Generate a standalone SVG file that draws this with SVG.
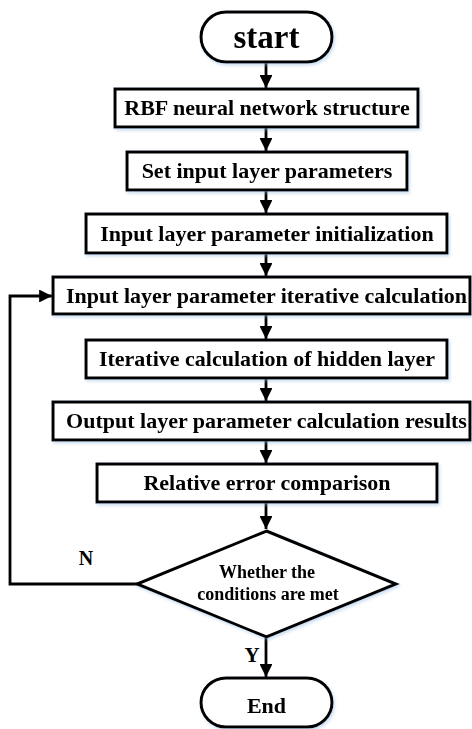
<svg xmlns="http://www.w3.org/2000/svg" width="472" height="729" viewBox="0 0 472 729">
<style>
.box{fill:#fff;stroke:#000;stroke-width:3}
.t{font-family:"Liberation Serif","Times New Roman",serif;font-weight:bold;font-size:22px;fill:#000;text-anchor:middle}
.c{fill:none;stroke:#000;stroke-width:2.8}
</style>
<defs>
<marker id="ah" viewBox="0 0 10 10" refX="10" refY="5" markerWidth="5" markerHeight="4.6" markerUnits="strokeWidth" orient="auto">
<path d="M0,0 L10,5 L0,10 z" fill="#000"/>
</marker>
<filter id="sh" x="-10%" y="-20%" width="120%" height="140%">
<feDropShadow dx="1.5" dy="2" stdDeviation="1.5" flood-color="#8fb8e0" flood-opacity="0.45"/>
</filter>
</defs>
<rect width="472" height="729" fill="#fff"/>
<g id="connectors">
<line class="c" x1="266" y1="63" x2="266" y2="88" marker-end="url(#ah)"/>
<line class="c" x1="266" y1="128" x2="266" y2="151" marker-end="url(#ah)"/>
<line class="c" x1="266" y1="191" x2="266" y2="213" marker-end="url(#ah)"/>
<line class="c" x1="266" y1="254" x2="266" y2="276" marker-end="url(#ah)"/>
<line class="c" x1="266" y1="315" x2="266" y2="339" marker-end="url(#ah)"/>
<line class="c" x1="266" y1="379" x2="266" y2="401" marker-end="url(#ah)"/>
<line class="c" x1="266" y1="441" x2="266" y2="463" marker-end="url(#ah)"/>
<line class="c" x1="266" y1="503" x2="266" y2="529" marker-end="url(#ah)"/>
<line class="c" x1="266" y1="637" x2="266" y2="677" marker-end="url(#ah)"/>
<polyline class="c" points="137,584 10,584 10,296 52,296" marker-end="url(#ah)"/>
<text class="t" x="86" y="565" style="font-size:20px">N</text>
<text class="t" x="252" y="662" style="font-size:21px">Y</text>
</g>
<g id="start" filter="url(#sh)">
<rect class="box" x="201" y="12" width="131" height="50" rx="25" ry="25"/>
<text class="t" x="266.5" y="48" style="font-size:33px">start</text>
</g>
<g id="n1" filter="url(#sh)">
<rect class="box" x="115" y="89" width="303" height="38"/>
<text class="t" x="267" y="115">RBF neural network structure</text>
</g>
<g id="n2" filter="url(#sh)">
<rect class="box" x="127" y="152" width="280" height="38"/>
<text class="t" x="267" y="178">Set input layer parameters</text>
</g>
<g id="n3" filter="url(#sh)">
<rect class="box" x="86" y="214" width="361" height="39"/>
<text class="t" x="267" y="240.5">Input layer parameter initialization</text>
</g>
<g id="n4" filter="url(#sh)">
<rect class="box" x="53" y="277" width="417" height="37"/>
<text class="t" x="266.5" y="302.5">Input layer parameter iterative calculation</text>
</g>
<g id="n5" filter="url(#sh)">
<rect class="box" x="86" y="340" width="361" height="38"/>
<text class="t" x="267" y="366">Iterative calculation of hidden layer</text>
</g>
<g id="n6" filter="url(#sh)">
<rect class="box" x="53" y="402" width="417" height="38"/>
<text class="t" x="266.5" y="428">Output layer parameter calculation results</text>
</g>
<g id="n7" filter="url(#sh)">
<rect class="box" x="97" y="464" width="340" height="38"/>
<text class="t" x="267" y="490">Relative error comparison</text>
</g>
<g id="decision" filter="url(#sh)">
<polygon class="box" points="266.5,531 396,584 266.5,637 137,584"/>
<text class="t" x="267" y="578" style="font-size:18px">Whether the</text>
<text class="t" x="268" y="600" style="font-size:18px">conditions are met</text>
</g>
<g id="end" filter="url(#sh)">
<rect class="box" x="201" y="678" width="131" height="49" rx="25" ry="25"/>
<text class="t" x="266.5" y="713">End</text>
</g>
</svg>
